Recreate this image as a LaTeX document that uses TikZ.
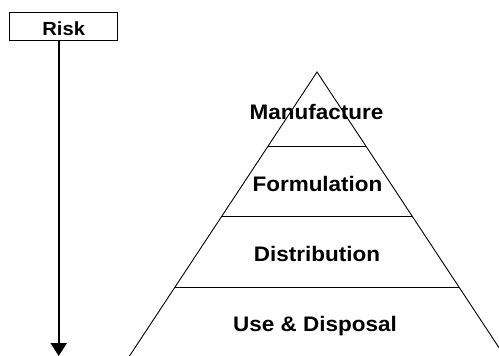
\documentclass[tikz,border=0pt]{standalone}
\usepackage{fontspec}
\setmainfont{Liberation Sans}[FakeStretch=1.07]
\newfontfamily\riskfont{Liberation Sans}[FakeStretch=1.06]
\usetikzlibrary{arrows.meta,calc}
\begin{document}
\begin{tikzpicture}[x=1pt,y=-1pt,
  lbl/.style={font=\fontsize{21}{24}\selectfont\bfseries, inner sep=0pt, anchor=base},
  edge/.style={line width=0.9pt, line join=miter},
  riskbox/.style={draw, line width=0.9pt, minimum width=108pt, minimum height=28pt, inner sep=0pt},
  risklbl/.style={font=\riskfont\fontsize{19}{22}\selectfont\bfseries, inner sep=0pt, anchor=base},
  riskarrow/.style={line width=2.4pt, -{Triangle[length=13pt,width=16pt]}}]
\useasboundingbox (0,0) rectangle (499,356);
\node[riskbox] (risk) at (63,26) {};
\node[risklbl] (risktxt) at (63.7,35.7) {Risk};
\coordinate (riskend) at (58.7,356);
\draw[riskarrow] (risk.south -| riskend) -- (riskend);
\begin{scope}
\clip (0,0) rectangle (499,356);
\coordinate (apex) at (317,72);
\coordinate (bl) at (129.5,356);
\coordinate (br) at (504.5,356);
\draw[edge] (bl) -- (apex) -- (br);
\coordinate (l1a) at ($(apex)!{74.5/284}!(bl)$);
\coordinate (l1b) at ($(apex)!{74.5/284}!(br)$);
\coordinate (l2a) at ($(apex)!{144/284}!(bl)$);
\coordinate (l2b) at ($(apex)!{144/284}!(br)$);
\coordinate (l3a) at ($(apex)!{215/284}!(bl)$);
\coordinate (l3b) at ($(apex)!{215/284}!(br)$);
\draw[edge] (l1a) -- (l1b);
\draw[edge] (l2a) -- (l2b);
\draw[edge] (l3a) -- (l3b);
\end{scope}
\node[lbl] (m) at (316.5,119) {Manufacture};
\node[lbl] (f) at (317.5,191) {Formulation};
\node[lbl] (d) at (317,261.5) {Distribution};
\node[lbl] (u) at (315,331.5) {Use \& Disposal};
\end{tikzpicture}
\end{document}
